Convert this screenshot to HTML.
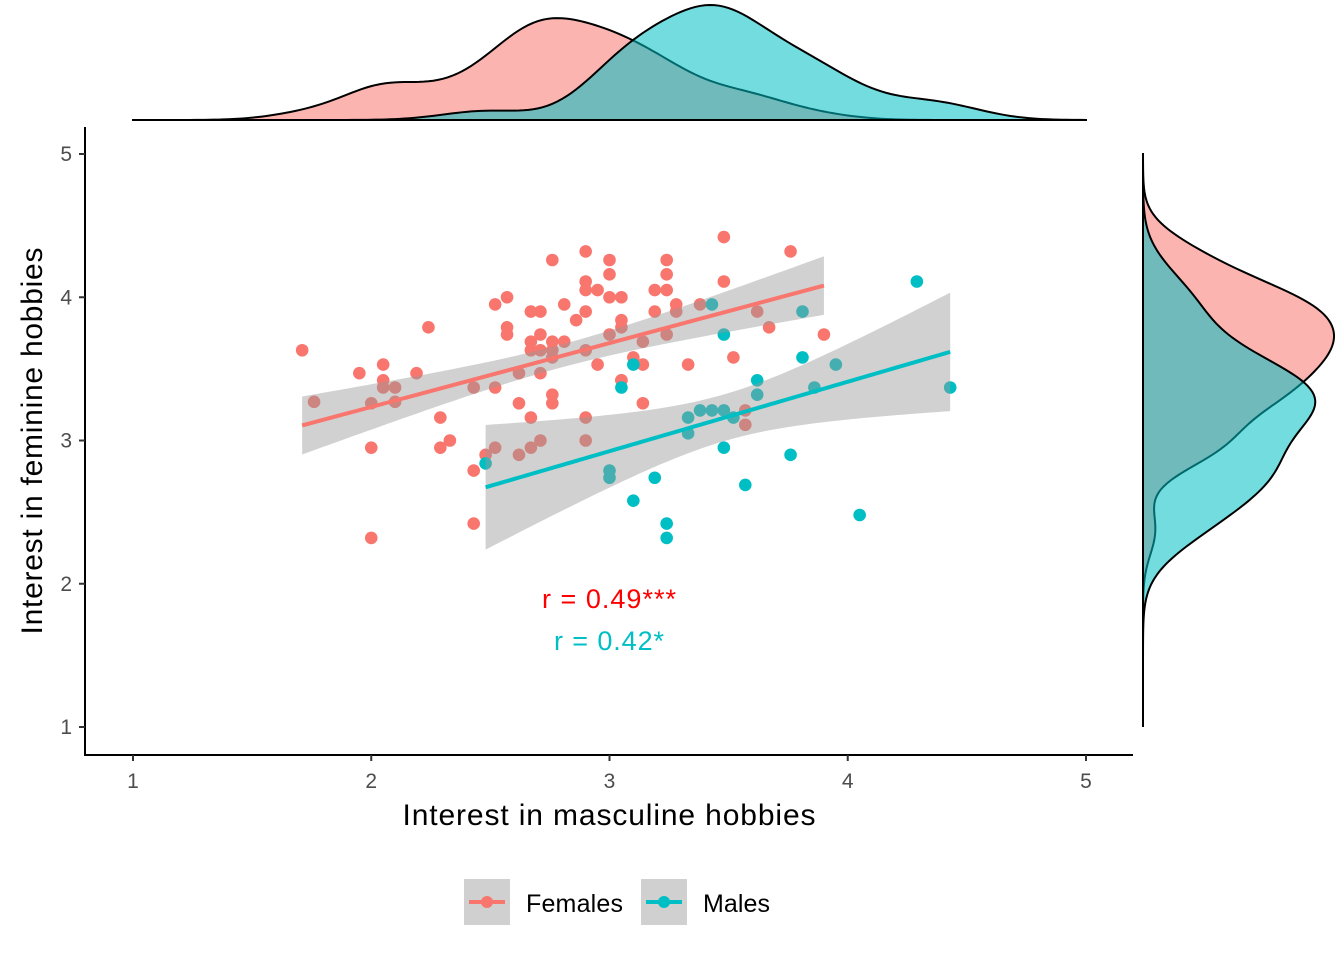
<!DOCTYPE html>
<html><head><meta charset="utf-8"><style>
body{margin:0;background:#fff}
svg{display:block;font-family:"Liberation Sans",Arial,sans-serif}
</style></head><body>
<svg id="chart" width="1344" height="960" viewBox="0 0 1344 960">
<g id="topdens"></g>
<g id="rightdens"></g>
<g id="points"></g>
<g id="smooths"></g>
<g id="axes"></g>
<text x="609" y="608" text-anchor="middle" font-size="27" textLength="134" fill="#FF0000">r = 0.49***</text>
<text x="609" y="650" text-anchor="middle" font-size="27" textLength="110" fill="#00BFC4">r = 0.42*</text>
<text x="609" y="825" text-anchor="middle" font-size="30" textLength="413" fill="#000">Interest in masculine hobbies</text>
<text transform="translate(42,441) rotate(-90)" text-anchor="middle" font-size="30" textLength="387" fill="#000">Interest in feminine hobbies</text>
<g>
 <g>
  <rect x="464" y="879" width="46" height="46" fill="#d0d0d0"/>
  <line x1="469" y1="902" x2="505" y2="902" stroke="#F8766D" stroke-width="4"/>
  <circle cx="487" cy="902" r="6" fill="#F8766D"/>
  <text x="526" y="912" font-size="25" textLength="97" fill="#000">Females</text>
 </g>
 <g>
  <rect x="641" y="879" width="46" height="46" fill="#d0d0d0"/>
  <line x1="646" y1="902" x2="682" y2="902" stroke="#00BFC4" stroke-width="4"/>
  <circle cx="664" cy="902" r="6" fill="#00BFC4"/>
  <text x="703" y="912" font-size="25" textLength="67" fill="#000">Males</text>
 </g>
</g>
</svg>
<script>
const femX=[1.71,1.76,1.95,2.0,2.0,2.0,2.05,2.05,2.05,2.1,2.1,2.19,2.24,2.29,2.29,2.33,2.43,2.43,2.43,2.48,2.52,2.52,2.52,2.57,2.57,2.57,2.62,2.62,2.62,2.67,2.67,2.67,2.67,2.67,2.71,2.71,2.71,2.71,2.71,2.76,2.76,2.76,2.76,2.76,2.76,2.81,2.81,2.86,2.9,2.9,2.9,2.9,2.9,2.9,2.9,2.95,2.95,3.0,3.0,3.0,3.0,3.05,3.05,3.05,3.05,3.05,3.1,3.14,3.14,3.14,3.19,3.19,3.24,3.24,3.24,3.24,3.28,3.28,3.33,3.38,3.48,3.48,3.62,3.67,3.52,3.57,3.57,3.76,3.9];
const femY=[3.63,3.27,3.47,3.26,2.95,2.32,3.53,3.42,3.37,3.37,3.27,3.47,3.79,3.16,2.95,3.0,3.37,2.79,2.42,2.9,3.95,3.37,2.95,4.0,3.79,3.74,3.47,3.26,2.9,3.9,3.69,3.63,3.16,2.95,3.9,3.74,3.63,3.47,3.0,4.26,3.69,3.63,3.58,3.32,3.26,3.95,3.69,3.84,4.32,4.11,4.05,3.9,3.63,3.16,3.0,4.05,3.53,4.26,4.16,4.0,3.74,4.0,3.84,3.79,3.42,3.42,3.58,3.69,3.53,3.26,4.05,3.9,4.26,4.16,4.05,3.74,3.95,3.9,3.53,3.95,4.42,4.11,3.9,3.79,3.58,3.21,3.11,4.32,3.74];
const malX=[2.48,3.0,3.0,3.05,3.1,3.1,3.19,3.24,3.24,3.33,3.33,3.38,3.43,3.43,3.48,3.48,3.48,3.52,3.62,3.62,3.76,3.57,3.81,3.81,3.95,3.86,4.05,4.29,4.43];
const malY=[2.84,2.79,2.74,3.37,3.53,2.58,2.74,2.42,2.32,3.16,3.05,3.21,3.95,3.21,3.21,2.95,3.74,3.16,3.42,3.32,2.9,2.69,3.9,3.58,3.53,3.37,2.48,4.11,3.37];
const xTicks=[1,2,3,4,5];
const yTicks=[1,2,3,4,5];

const NS='http://www.w3.org/2000/svg';
const sx=v=>133+(v-1)*238.25;
const sy=v=>727-(v-1)*143.25;
function mk(tag,attrs,parent){const e=document.createElementNS(NS,tag);for(const k in attrs)e.setAttribute(k,attrs[k]);parent.appendChild(e);return e;}
const FC='#F8766D',MC='#00BFC4';
const gP=document.getElementById('points');
function drawPts(xs,ys,col,nm){xs.forEach((x,i)=>{const c=mk('circle',{cx:sx(x),cy:sy(ys[i]),r:6.3,fill:col},gP);

});}
drawPts(femX,femY,FC,'female-point');drawPts(malX,malY,MC,'male-point');

const tq={27:2.052,87:1.988};
function lm(xs,ys,col,nm){
 const n=xs.length,mx=xs.reduce((a,b)=>a+b)/n,my=ys.reduce((a,b)=>a+b)/n;
 let sxx=0,sxy=0;xs.forEach((x,i)=>{sxx+=(x-mx)**2;sxy+=(x-mx)*(ys[i]-my);});
 const b=sxy/sxx,a=my-b*mx;let sse=0;xs.forEach((x,i)=>{sse+=(ys[i]-a-b*x)**2;});
 const s=Math.sqrt(sse/(n-2)),t=tq[n-2]||1.99;
 const x0=Math.min(...xs),x1=Math.max(...xs);const up=[],lo=[],ln=[];
 for(let k=0;k<=80;k++){const x=x0+(x1-x0)*k/80,f=a+b*x,se=s*Math.sqrt(1/n+(x-mx)**2/sxx);
  up.push(sx(x)+','+sy(f+t*se));lo.push(sx(x)+','+sy(f-t*se));ln.push(sx(x)+','+sy(f));}
 const g=document.getElementById('smooths');
 const r=mk('polygon',{points:up.concat(lo.reverse()).join(' '),fill:'#999999','fill-opacity':0.45},g);
 
 
 const l=mk('polyline',{points:ln.join(' '),fill:'none',stroke:col,'stroke-width':4},g);
 
 
}
lm(femX,femY,FC,'females');lm(malX,malY,MC,'males');

function bw(v){const n=v.length,m=v.reduce((a,b)=>a+b)/n,sd=Math.sqrt(v.reduce((a,b)=>a+(b-m)**2,0)/(n-1));
 const s=[...v].sort((a,b)=>a-b);const q=p=>{const h=(n-1)*p,i=Math.floor(h);return s[i]+(h-i)*((s[i+1]??s[i])-s[i]);};
 const iqr=q(.75)-q(.25);return 0.9*Math.min(sd,iqr/1.34)*Math.pow(n,-0.2);}
function kde(v){const h=bw(v),n=v.length,out=[];for(let k=0;k<=200;k++){const x=1+4*k/200;let d=0;v.forEach(a=>{d+=Math.exp(-0.5*((x-a)/h)**2);});out.push([x,d/(n*h*Math.sqrt(2*Math.PI))]);}return out;}
const dfx=kde(femX),dmx=kde(malX),dfy=kde(femY),dmy=kde(malY);
const mxTop=Math.max(...dfx.map(d=>d[1]),...dmx.map(d=>d[1]));
const mxR=Math.max(...dfy.map(d=>d[1]),...dmy.map(d=>d[1]));
const gT=document.getElementById('topdens'),gR=document.getElementById('rightdens');
function topPath(d,col,nm){const pts=d.map(p=>sx(p[0])+','+(120-p[1]/mxTop*115));
 const e=mk('path',{d:'M'+sx(1)+',120 L'+pts.join(' L')+' L'+sx(5)+',120Z',fill:col,'fill-opacity':0.55,stroke:'#000','stroke-width':2},gT);
 
 }
function rightPath(d,col,nm){const pts=d.map(p=>(1143+p[1]/mxR*191)+','+sy(p[0]));
 const e=mk('path',{d:'M1143,'+sy(1)+' L'+pts.join(' L')+' L1143,'+sy(5)+'Z',fill:col,'fill-opacity':0.55,stroke:'#000','stroke-width':2},gR);
 
 }
topPath(dfx,FC,'female-x-density');topPath(dmx,MC,'male-x-density');
rightPath(dfy,FC,'female-y-density');rightPath(dmy,MC,'male-y-density');

const gA=document.getElementById('axes');
const la=mk('line',{x1:85,y1:127,x2:85,y2:755,stroke:'#000','stroke-width':2},gA);


const ba=mk('line',{x1:84,y1:755,x2:1133,y2:755,stroke:'#000','stroke-width':2},gA);


xTicks.forEach(v=>{mk('line',{x1:sx(v),y1:755,x2:sx(v),y2:761,stroke:'#333','stroke-width':2},gA);
 const t=mk('text',{x:sx(v),y:788,'text-anchor':'middle','font-size':21,fill:'#4d4d4d'},gA);t.textContent=v;
 
 });
yTicks.forEach(v=>{mk('line',{x1:79,y1:sy(v),x2:85,y2:sy(v),stroke:'#333','stroke-width':2},gA);
 const t=mk('text',{x:72,y:sy(v)+7,'text-anchor':'end','font-size':21,fill:'#4d4d4d'},gA);t.textContent=v;
 
 });
</script>
</body></html>
